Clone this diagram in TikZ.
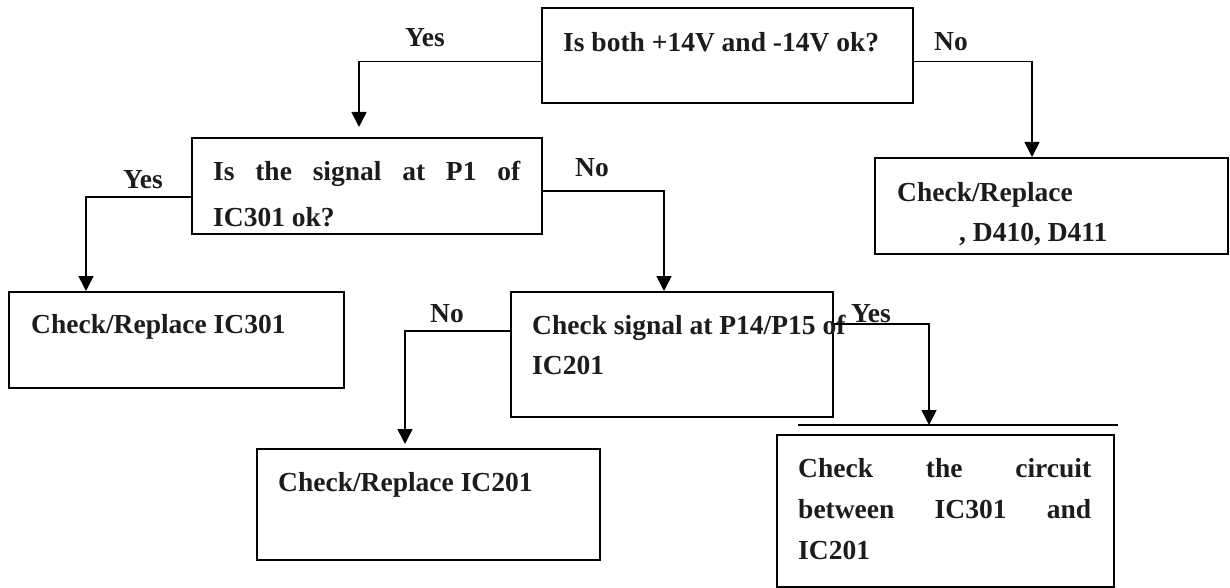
\documentclass[tikz,border=0pt]{standalone}
\usepackage{fontspec}
\setmainfont{Liberation Serif}
\usetikzlibrary{arrows.meta}
\definecolor{ink}{RGB}{30,27,28}
\begin{document}
\begin{tikzpicture}[x=1pt,y=-1pt,
  box/.style={draw=black, line width=2pt, inner sep=0pt, anchor=north west},
  conn/.style={draw=black, line width=1.6pt, -{Triangle[length=15pt,width=15pt]}},
  txt/.style={inner sep=0pt, anchor=base west, text=ink, font=\bfseries\fontsize{27.5}{30}\selectfont},
  lbl/.style={inner sep=0pt, anchor=base, text=ink, font=\bfseries\fontsize{27.5}{30}\selectfont}]
\useasboundingbox (0,0) rectangle (1230,588);
% boxes
\node[box, minimum width=371pt, minimum height=95pt]  (A) at (541,7)   {};
\node[box, minimum width=350pt, minimum height=96pt]  (B) at (191,137) {};
\node[box, minimum width=353pt, minimum height=96pt]  (D) at (874,157) {};
\node[box, minimum width=335pt, minimum height=96pt]  (C) at (8,291)   {};
\node[box, minimum width=322pt, minimum height=125pt] (E) at (510,291) {};
\node[box, minimum width=343pt, minimum height=111pt] (F) at (256,448) {};
\node[box, minimum width=337pt, minimum height=152pt] (G) at (776,434) {};
% texts
\node[txt] (At)  at (563,52)  {Is both +14V and -14V ok?};
\node[txt] (Bt1) at (213,181) {\makebox[307pt][s]{Is the signal at P1 of}};
\node[txt] (Bt2) at (213,226) {IC301 ok?};
\node[txt] (Dt1) at (897,201) {Check/Replace};
\node[txt] (Dt2) at (959,241) {, D410, D411};
\node[txt] (Ct)  at (31,333)  {Check/Replace IC301};
\node[txt] (Et1) at (532,334) {Check signal at P14/P15 of};
\node[txt] (Et2) at (532,374) {IC201};
\node[txt] (Ft)  at (278,491) {Check/Replace IC201};
\node[txt] (Gt1) at (798,477) {\makebox[293pt][s]{Check the circuit}};
\node[txt] (Gt2) at (798,518) {\makebox[293pt][s]{between IC301 and}};
\node[txt] (Gt3) at (798,559) {IC201};
% connectors
\draw[conn] ([yshift=-6pt]A.west) -| ([xshift=-8pt,yshift=10pt]B.north);
\draw[conn] ([yshift=-6pt]A.east) -| ([xshift=-19.5pt]D.north);
\draw[conn] ([yshift=-11pt]B.west) -| ([xshift=-90.5pt]C.north);
\draw[conn] ([yshift=-5pt]B.east) -| ([xshift=-8pt]E.north);
\draw[conn] ([yshift=23.5pt]E.west) -| ([xshift=-23.5pt,yshift=4pt]F.north);
\draw[conn] ([yshift=30.5pt]E.east) -| ([xshift=-16.5pt,yshift=9pt]G.north);
\coordinate (g1) at (798,425);
\coordinate (g2) at (1118,425);
\draw[line width=1.2pt] (g1) -- (g2);
% labels
\node[lbl] (yA) at (425,47)  {Yes};
\node[lbl] (nA) at (951,51)  {No};
\node[lbl] (yB) at (143,189) {Yes};
\node[lbl] (nB) at (592,176) {No};
\node[lbl] (nE) at (447,322) {No};
\node[lbl] (yE) at (871,322) {Yes};
\end{tikzpicture}
\end{document}
